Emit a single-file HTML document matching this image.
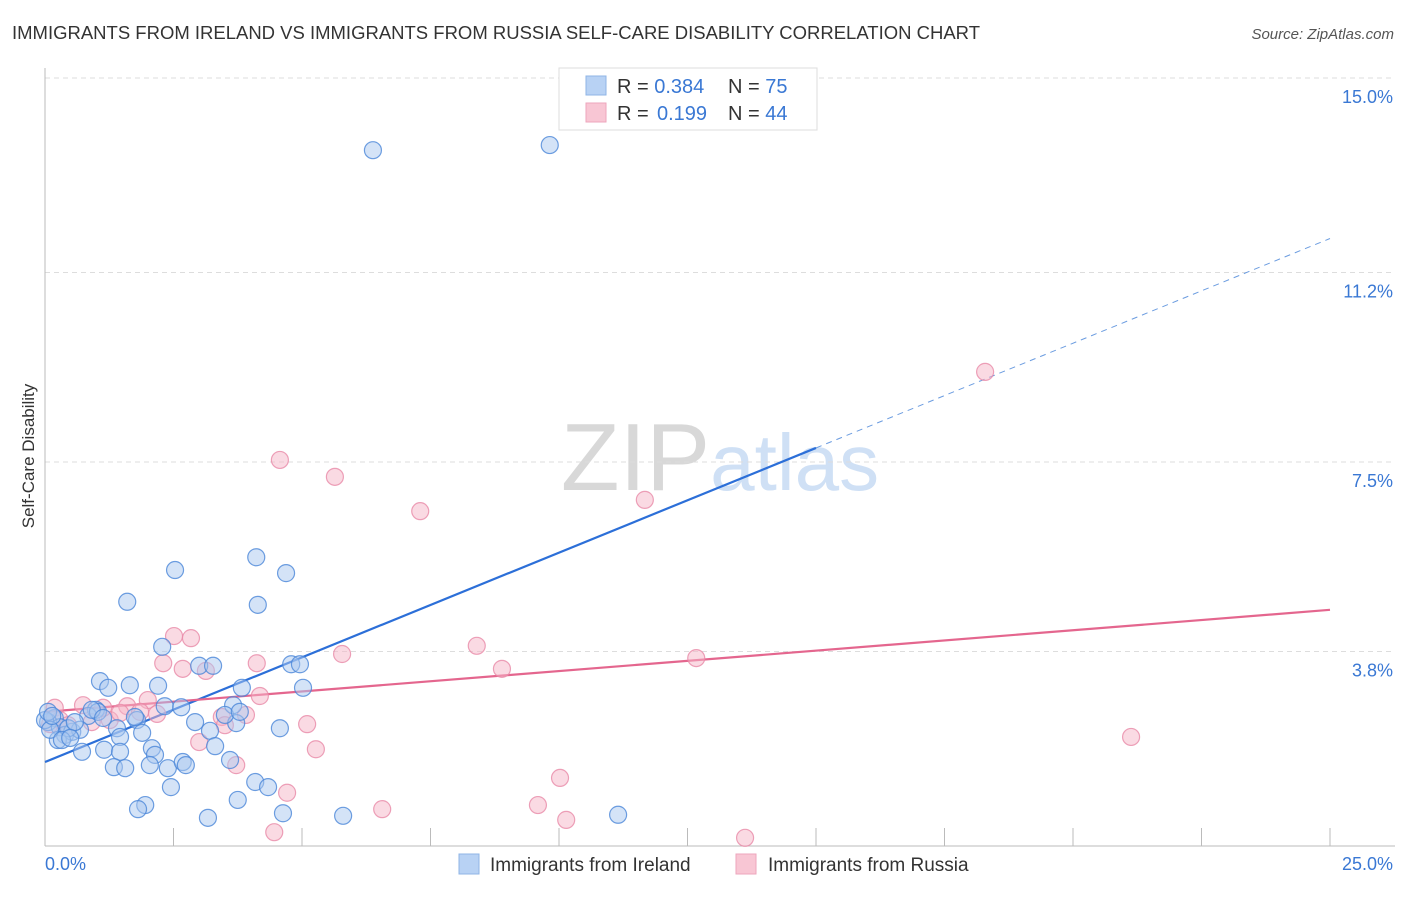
<!DOCTYPE html>
<html><head><meta charset="utf-8"><style>
body{margin:0;background:#fff;font-family:"Liberation Sans",sans-serif}
svg text{font-family:"Liberation Sans",sans-serif}
</style></head><body>
<svg id="chart" width="1406" height="892" viewBox="0 0 1406 892" xmlns="http://www.w3.org/2000/svg">
<text x="12" y="39" font-size="18" fill="#333" textLength="968" lengthAdjust="spacingAndGlyphs">IMMIGRANTS FROM IRELAND VS IMMIGRANTS FROM RUSSIA SELF-CARE DISABILITY CORRELATION CHART</text>
<text x="1394" y="39" font-size="15" fill="#555" text-anchor="end" font-style="italic">Source: ZipAtlas.com</text>
<text x="720" y="490" font-size="96" text-anchor="middle" fill="#ddd" font-family="Liberation Serif"><tspan fill="#d8d8d8">ZIP</tspan><tspan fill="#cfe0f5" font-family="Liberation Sans" font-size="80">atlas</tspan></text>
<g id="grid"></g>
<g id="axes"></g>
<g id="lines"></g>
<g id="pts"></g>
<text transform="translate(34,456) rotate(-90)" font-size="17" fill="#333" text-anchor="middle">Self-Care Disability</text>
<g>
<rect x="559" y="68" width="258" height="62" fill="#fff" stroke="#ddd"/>
<rect x="586" y="76" width="20" height="19" fill="#b8d2f4" stroke="#8fb4e6"/>
<rect x="586" y="103" width="20" height="19" fill="#f8c6d4" stroke="#eea6bc"/>
<text x="617" y="93" font-size="20" fill="#333">R = <tspan fill="#3a78d4">0.384</tspan><tspan x="728">N = </tspan><tspan fill="#3a78d4">75</tspan></text>
<text x="617" y="120" font-size="20" fill="#333">R = <tspan x="657" fill="#3a78d4">0.199</tspan><tspan x="728">N = </tspan><tspan fill="#3a78d4">44</tspan></text>
</g>
<g><rect x="459" y="854" width="20" height="20" fill="#b8d2f4" stroke="#8fb4e6"/><text x="490" y="871" font-size="19" fill="#333">Immigrants from Ireland</text></g>
<g><rect x="736" y="854" width="20" height="20" fill="#f8c6d4" stroke="#eea6bc"/><text x="768" y="871" font-size="19" fill="#333">Immigrants from Russia</text></g>
</svg>
<script>
const blueX=[6.38,9.82,2.53,4.11,4.69,1.6,4.14,2.28,4.79,3,3.27,1.07,1.23,1.65,2.2,3.83,5.02,2.33,2.65,3.66,0.99,0.19,0.06,0.84,1.79,2.92,3.72,4.57,3.21,0.29,0.39,0.53,0.68,1.4,1.89,1.46,0.25,1.15,1.46,2.08,0.72,3.31,2.14,1.34,1.56,2.04,2.39,2.68,2.74,3.6,4.09,4.34,2.45,3.75,1.95,1.81,3.17,4.63,5.8,11.15,1.03,0.91,3.5,0,0.1,0.45,0.58,1.13,1.75,0.06,0.14,0.33,0.49,3.79,4.96];
const blueY=[13.59,13.69,5.39,5.64,5.33,4.77,4.71,3.89,3.55,3.52,3.52,3.22,3.09,3.14,3.13,3.09,3.09,2.73,2.71,2.75,2.66,2.5,2.42,2.54,2.46,2.42,2.4,2.3,2.25,2.32,2.17,2.23,2.27,2.3,2.21,2.13,2.07,1.88,1.84,1.91,1.84,1.95,1.78,1.54,1.52,1.58,1.52,1.64,1.58,1.68,1.25,1.15,1.15,0.9,0.8,0.72,0.55,0.64,0.59,0.61,2.62,2.66,2.56,2.46,2.27,2.3,2.42,2.5,2.52,2.62,2.54,2.07,2.11,2.62,3.55];
const pinkX=[18.29,4.57,5.64,7.3,11.67,2.51,2.84,2.3,2.68,3.13,4.12,5.78,8.4,8.89,12.67,2,4.18,0.74,1.6,2.18,3.44,3.91,5.1,21.13,3,5.27,3.72,10.02,4.71,6.56,9.59,10.14,4.46,13.62,0.19,0.1,0.29,0.45,1.26,1.13,1.46,1.85,0.91,3.5];
const pinkY=[9.26,7.54,7.21,6.54,6.76,4.1,4.06,3.57,3.46,3.42,3.57,3.75,3.91,3.46,3.67,2.85,2.93,2.75,2.73,2.58,2.52,2.56,2.38,2.13,2.03,1.89,1.58,1.33,1.04,0.72,0.8,0.51,0.27,0.16,2.7,2.38,2.46,2.36,2.46,2.7,2.6,2.62,2.42,2.36];
const xTicks=[0,2.5,5,7.5,10,12.5,15,17.5,20,22.5,25];
const yTicks=[3.8,7.5,11.2,15.0];
const yTickLabels=["3.8%","7.5%","11.2%","15.0%"];
const blueLine=[1.64,0.409]; // intercept, slope
const pinkLine=[2.62,0.0797];
const NS="http://www.w3.org/2000/svg";
const X0=45,X1=1330,Y0=846,Y15=78;
const sx=v=>X0+(v/25)*(X1-X0);
const sy=v=>Y15+(15-v)*(Y0-Y15)/15;
function mk(t,a,p){const e=document.createElementNS(NS,t);for(const k in a)e.setAttribute(k,a[k]);p.appendChild(e);return e;}
const grid=document.getElementById('grid'),axes=document.getElementById('axes'),lines=document.getElementById('lines'),pts=document.getElementById('pts');
yTicks.forEach((v,i)=>{
 const g=mk('line',{x1:X0,x2:1395,y1:sy(v),y2:sy(v),stroke:'#ddd','stroke-dasharray':'5,4'},grid);
 
 
 const t=mk('text',{x:1393,y:sy(v)+25,'font-size':18,fill:'#3a78d4','text-anchor':'end'},axes);
 t.textContent=yTickLabels[i];
 
 
});
const ax=mk('line',{x1:X0,x2:X0,y1:68,y2:Y0,stroke:'#bbb'},axes);


const bx=mk('line',{x1:X0,x2:1395,y1:Y0,y2:Y0,stroke:'#bbb'},axes);


xTicks.forEach(v=>{
 const t=mk('line',{x1:sx(v),x2:sx(v),y1:828,y2:Y0,stroke:'#bbb'},axes);
 
 
});
const xl=mk('text',{x:45,y:870,'font-size':18,fill:'#3a78d4'},axes);xl.textContent='0.0%';


const xr=mk('text',{x:1393,y:870,'font-size':18,fill:'#3a78d4','text-anchor':'end'},axes);xr.textContent='25.0%';


function dot(x,y,fill,stroke,name){
 const c=mk('circle',{cx:sx(x),cy:sy(y),r:8.5,fill:fill,'fill-opacity':0.5,stroke:stroke,'stroke-opacity':0.8,'stroke-width':1.2},pts);
 
 
}
pinkX.forEach((x,i)=>dot(x,pinkY[i],'#f5b6c8','#e98aa8','russia-point'));
blueX.forEach((x,i)=>dot(x,blueY[i],'#a9c8f0','#4a86d8','ireland-point'));
const bl=mk('line',{x1:sx(0),y1:sy(blueLine[0]),x2:sx(15),y2:sy(blueLine[0]+15*blueLine[1]),stroke:'#2c6fd8','stroke-width':2.2},lines);


const bd=mk('line',{x1:sx(15),y1:sy(blueLine[0]+15*blueLine[1]),x2:sx(25),y2:sy(blueLine[0]+25*blueLine[1]),stroke:'#6b9ce0','stroke-width':1,'stroke-dasharray':'6,5'},lines);


const pl=mk('line',{x1:sx(0),y1:sy(pinkLine[0]),x2:sx(25),y2:sy(pinkLine[0]+25*pinkLine[1]),stroke:'#e4668e','stroke-width':2.2},lines);


</script>
</body></html>
